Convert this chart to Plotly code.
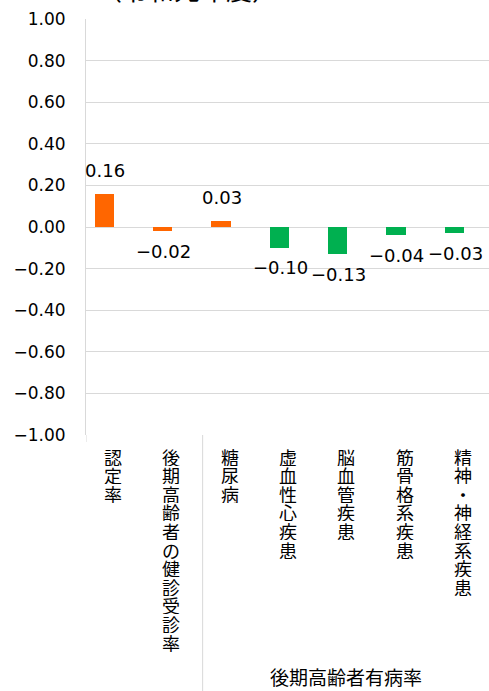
import plotly.graph_objects as go

# ---- data ----
title_text = "（令和元年度）"
categories = ["認定率", "後期高齢者の健診受診率", "糖尿病", "虚血性心疾患",
              "脳血管疾患", "筋骨格系疾患", "精神・神経系疾患"]
values = [0.16, -0.02, 0.03, -0.10, -0.13, -0.04, -0.03]
value_labels = ["0.16", "−0.02", "0.03", "−0.10", "−0.13", "−0.04", "−0.03"]
group_label = "後期高齢者有病率"
group_members = [2, 3, 4, 5, 6]
tick_vals = [1.0, 0.8, 0.6, 0.4, 0.2, 0.0, -0.2, -0.4, -0.6, -0.8, -1.0]
tick_text = ["1.00", "0.80", "0.60", "0.40", "0.20", "0.00",
             "−0.20", "−0.40", "−0.60", "−0.80", "−1.00"]

# ---- style ----
ORANGE = "#FF6600"
GREEN = "#00B050"
bar_colors = [ORANGE, ORANGE, ORANGE, GREEN, GREEN, GREEN, GREEN]
FONT = "Noto Sans CJK JP"
NUMFONT = "DejaVu Sans"
GRID = "#D9D9D9"

W, H = 489, 691
ML, MT = 86, 19
PLOT_BOTTOM = 435  # pixel y of -1.00

fig = go.Figure()
fig.add_trace(go.Bar(
    x=categories, y=values,
    marker=dict(color=bar_colors, line=dict(width=0)),
    width=0.33, offset=-0.35,
    hoverinfo="x+y",
))

annotations = []
# data labels
for c, v, t in zip(categories, values, value_labels):
    annotations.append(dict(
        x=c, y=v, xref="x", yref="y", text=t, showarrow=False,
        xshift=-10, yshift=23 if v >= 0 else -20,
        font=dict(family=NUMFONT, size=18, color="#000000"),
        xanchor="center", yanchor="middle",
    ))

# vertical category labels (one glyph per line, upright)
pitch = 18.6
first = 456.5
for c in categories:
    for k, ch in enumerate(c):
        py = first + k * pitch
        annotations.append(dict(
            x=c, y=0, xref="x", yref="paper", text=ch, showarrow=False,
            xshift=-2, yshift=-(py - PLOT_BOTTOM),
            font=dict(family=FONT, size=18, color="#000000"),
            xanchor="center", yanchor="middle", valign="middle",
            height=18, borderpad=0,
        ))

# group label
mid = group_members[len(group_members) // 2]
annotations.append(dict(
    x=categories[mid], y=0, xref="x", yref="paper", text=group_label,
    showarrow=False, xshift=-2, yshift=-(676.5 - PLOT_BOTTOM),
    font=dict(family=FONT, size=19, color="#000000"),
    xanchor="center", yanchor="middle",
))

# title (partially cut off at top, as in the reference)
annotations.append(dict(
    x=(187 - ML) / (W - ML), y=1, xref="paper", yref="paper", text=title_text,
    showarrow=False, yshift=MT + 12,
    font=dict(family=FONT, size=26, color="#000000"),
    xanchor="center", yanchor="middle",
))

plot_h = PLOT_BOTTOM - MT
shapes = [
    # axis line extension below plot
    dict(type="line", xref="x", yref="paper", x0=-0.5, x1=-0.5,
         y0=0, y1=-7 / plot_h, line=dict(color=GRID, width=1)),
    # separator between ungrouped categories and the group
    dict(type="line", xref="x", yref="paper",
         x0=group_members[0] - 0.5, x1=group_members[0] - 0.5,
         y0=0, y1=-(H - PLOT_BOTTOM) / plot_h, line=dict(color=GRID, width=1)),
]

fig.update_layout(
    width=W, height=H, autosize=False,
    margin=dict(l=ML, r=0, t=MT, b=H - PLOT_BOTTOM, pad=0),
    paper_bgcolor="white", plot_bgcolor="white",
    showlegend=False,
    annotations=annotations, shapes=shapes,
    font=dict(family=FONT, size=17, color="#000000"),
    bargap=0,
)
fig.update_xaxes(
    type="category", range=[-0.5, 6.41], showticklabels=False,
    showgrid=False, zeroline=False, showline=False, ticks="",
)
fig.update_yaxes(
    range=[-1.0, 1.0], tickvals=tick_vals, ticktext=tick_text,
    showgrid=True, gridcolor=GRID, gridwidth=1,
    zeroline=True, zerolinecolor=GRID, zerolinewidth=1,
    showline=True, linecolor=GRID, linewidth=1,
    ticks="", ticklabelstandoff=16,
    tickfont=dict(family=NUMFONT, size=17, color="#000000"),
)

fig.write_html("out.html", config={"displayModeBar": False},
               post_script="document.body.style.margin='0';")
